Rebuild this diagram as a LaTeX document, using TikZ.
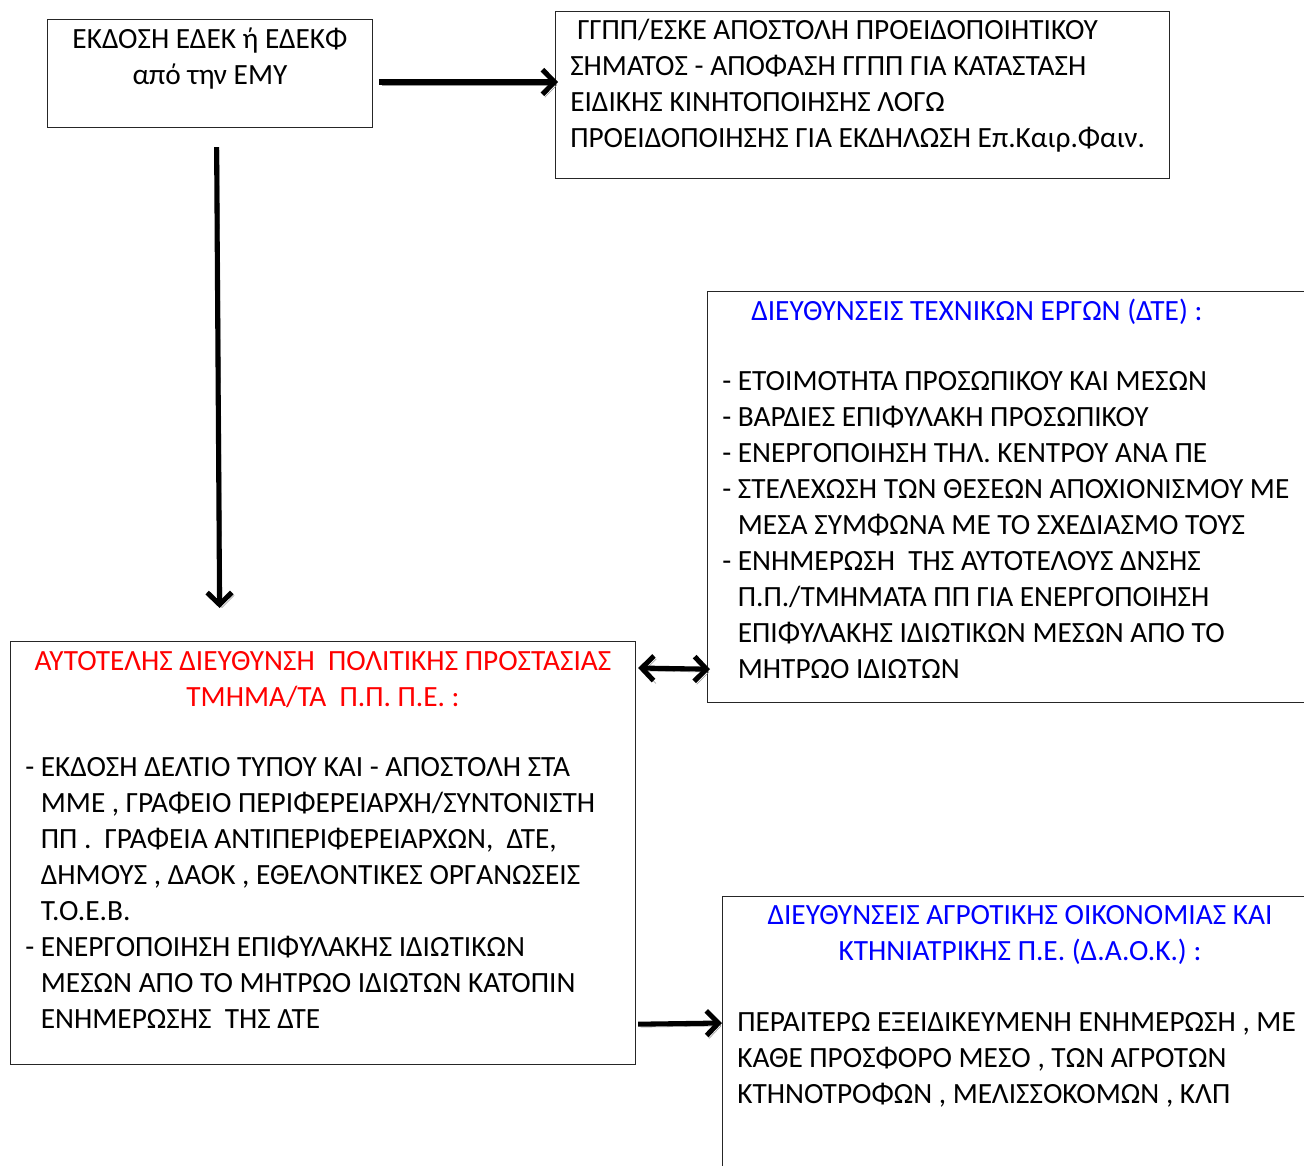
\documentclass[tikz,border=0pt]{standalone}
\usepackage{fontspec}
\setmainfont{Carlito}
\usetikzlibrary{arrows.meta,calc}
\definecolor{tblue}{RGB}{0,0,255}
\definecolor{tred}{RGB}{255,0,0}
\definecolor{shade}{RGB}{150,150,150}
\begin{document}
\begin{tikzpicture}[x=0.75pt,y=-0.75pt,
  box/.style={draw=black!85, line width=0.9pt, rectangle, inner sep=0pt, anchor=north west},
  txt/.style={inner sep=0pt, font=\fontsize{22pt}{27pt}\selectfont, align=left, anchor=base west},
  ctxt/.style={txt, align=center, anchor=base},
  tip/.tip={Straight Barb[length=9pt,width=18.5pt]},
  arr/.style={line width=3.8pt, -tip,
    preaction={draw=shade, transform canvas={shift={(1.8pt,-2.2pt)}}}},
  darr/.style={line width=3.8pt, tip-tip,
    preaction={draw=shade, transform canvas={shift={(1.8pt,-2.2pt)}}}}
]
\useasboundingbox[fill=white] (0,0) rectangle (1304,1165);
\begin{scope}
\clip (0,0) rectangle (1304,1165);
% boxes
\node[box, minimum width=243.75pt, minimum height=81pt] (b1) at (47,19) {};
\node[box, minimum width=460.5pt, minimum height=125.25pt] (b2) at (555,11) {};
\node[box, minimum width=452.25pt, minimum height=308.25pt] (b3) at (707,291) {};
\node[box, minimum width=468.75pt, minimum height=317.25pt] (b4) at (10,641) {};
\node[box, minimum width=442.5pt, minimum height=209.25pt] (b5) at (722,896) {};
\end{scope}
% texts (anchor = baseline of last line)
\node[ctxt] (t1) at (210,84) {ΕΚΔΟΣΗ ΕΔΕΚ ή ΕΔΕΚΦ\\από την ΕΜΥ};
\node[txt] (t2) at (570,147) {\hspace*{5.25pt}ΓΓΠΠ/ΕΣΚΕ ΑΠΟΣΤΟΛΗ ΠΡΟΕΙΔΟΠΟΙΗΤΙΚΟΥ\\ΣΗΜΑΤΟΣ - ΑΠΟΦΑΣΗ ΓΓΠΠ ΓΙΑ ΚΑΤΑΣΤΑΣΗ\\ΕΙΔΙΚΗΣ ΚΙΝΗΤΟΠΟΙΗΣΗΣ ΛΟΓΩ\\ΠΡΟΕΙΔΟΠΟΙΗΣΗΣ ΓΙΑ ΕΚΔΗΛΩΣΗ Επ.Καιρ.Φαιν.};
\node[txt, text=tblue] (t3h) at (751,320) {ΔΙΕΥΘΥΝΣΕΙΣ ΤΕΧΝΙΚΩΝ ΕΡΓΩΝ (ΔΤΕ) :};
\node[txt] (t3) at (722,678) {- ΕΤΟΙΜΟΤΗΤΑ ΠΡΟΣΩΠΙΚΟΥ ΚΑΙ ΜΕΣΩΝ\\- ΒΑΡΔΙΕΣ ΕΠΙΦΥΛΑΚΗ ΠΡΟΣΩΠΙΚΟΥ\\- ΕΝΕΡΓΟΠΟΙΗΣΗ ΤΗΛ. ΚΕΝΤΡΟΥ ΑΝΑ ΠΕ\\- ΣΤΕΛΕΧΩΣΗ ΤΩΝ ΘΕΣΕΩΝ ΑΠΟΧΙΟΝΙΣΜΟΥ ΜΕ\\\hphantom{-\ }ΜΕΣΑ ΣΥΜΦΩΝΑ ΜΕ ΤΟ ΣΧΕΔΙΑΣΜΟ ΤΟΥΣ\\- ΕΝΗΜΕΡΩΣΗ\ \ ΤΗΣ ΑΥΤΟΤΕΛΟΥΣ ΔΝΣΗΣ\\\hphantom{-\ }Π.Π./ΤΜΗΜΑΤΑ ΠΠ ΓΙΑ ΕΝΕΡΓΟΠΟΙΗΣΗ\\\hphantom{-\ }ΕΠΙΦΥΛΑΚΗΣ ΙΔΙΩΤΙΚΩΝ ΜΕΣΩΝ ΑΠΟ ΤΟ\\\hphantom{-\ }ΜΗΤΡΩΟ ΙΔΙΩΤΩΝ};
\node[ctxt, text=tred] (t4h) at (323,706) {ΑΥΤΟΤΕΛΗΣ ΔΙΕΥΘΥΝΣΗ\ \ ΠΟΛΙΤΙΚΗΣ ΠΡΟΣΤΑΣΙΑΣ\\ΤΜΗΜΑ/ΤΑ\ \ Π.Π. Π.Ε. :};
\node[txt] (t4) at (25,1028) {- ΕΚΔΟΣΗ ΔΕΛΤΙΟ ΤΥΠΟΥ ΚΑΙ - ΑΠΟΣΤΟΛΗ ΣΤΑ\\\hphantom{-\ }ΜΜΕ , ΓΡΑΦΕΙΟ ΠΕΡΙΦΕΡΕΙΑΡΧΗ/ΣΥΝΤΟΝΙΣΤΗ\\\hphantom{-\ }ΠΠ .\ \ ΓΡΑΦΕΙΑ ΑΝΤΙΠΕΡΙΦΕΡΕΙΑΡΧΩΝ,\ \ ΔΤΕ,\\\hphantom{-\ }ΔΗΜΟΥΣ , ΔΑΟΚ , ΕΘΕΛΟΝΤΙΚΕΣ ΟΡΓΑΝΩΣΕΙΣ\\\hphantom{-\ }Τ.Ο.Ε.Β.\\- ΕΝΕΡΓΟΠΟΙΗΣΗ ΕΠΙΦΥΛΑΚΗΣ ΙΔΙΩΤΙΚΩΝ\\\hphantom{-\ }ΜΕΣΩΝ ΑΠΟ ΤΟ ΜΗΤΡΩΟ ΙΔΙΩΤΩΝ ΚΑΤΟΠΙΝ\\\hphantom{-\ }ΕΝΗΜΕΡΩΣΗΣ\ \ ΤΗΣ ΔΤΕ};
\node[ctxt, text=tblue] (t5h) at (1020,960) {ΔΙΕΥΘΥΝΣΕΙΣ ΑΓΡΟΤΙΚΗΣ ΟΙΚΟΝΟΜΙΑΣ ΚΑΙ\\ΚΤΗΝΙΑΤΡΙΚΗΣ Π.Ε. (Δ.Α.Ο.Κ.) :};
\node[txt] (t5) at (737,1103) {ΠΕΡΑΙΤΕΡΩ ΕΞΕΙΔΙΚΕΥΜΕΝΗ ΕΝΗΜΕΡΩΣΗ , ΜΕ\\ΚΑΘΕ ΠΡΟΣΦΟΡΟ ΜΕΣΟ , ΤΩΝ ΑΓΡΟΤΩΝ\\ΚΤΗΝΟΤΡΟΦΩΝ , ΜΕΛΙΣΣΟΚΟΜΩΝ , ΚΛΠ};
% arrows
\draw[arr] ($(b1.north east)+(6,63)$) -- ($(b2.north west)+(3,71)$);
\draw[arr] ($(b1.south)+(6.5,19)$) -- ($(b4.north)+(-103.5,-33)$);
\draw[darr] ($(b4.north east)+(2,27)$) -- ($(b3.south west)+(3,-34)$);
\draw[arr] ($(b4.south east)+(2,-41)$) -- ($(b5.north west)+(0,127)$);
\end{tikzpicture}
\end{document}
